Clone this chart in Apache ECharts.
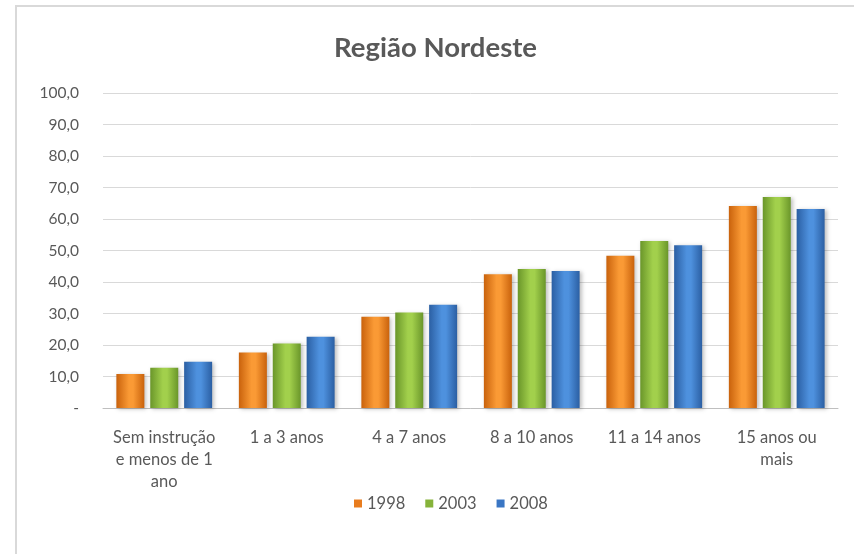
<!DOCTYPE html>
<html>
<head>
<meta charset="utf-8">
<script src="https://cdn.jsdelivr.net/npm/echarts@6/dist/echarts.min.js"></script>
<style>
html,body{margin:0;padding:0;background:#fff;}
#c{width:854px;height:554px;}
</style>
</head>
<body>
<div id="c"></div>
<script>
const categories = ['Sem instrução\ne menos de 1\nano', '1 a 3 anos', '4 a 7 anos', '8 a 10 anos', '11 a 14 anos', '15 anos ou\nmais'];
const seriesNames = ['1998', '2003', '2008'];
const values1998 = [10.8, 17.6, 29.0, 42.5, 48.3, 64.1];
const values2003 = [12.8, 20.5, 30.3, 44.1, 53.0, 67.0];
const values2008 = [14.7, 22.6, 32.8, 43.5, 51.7, 63.2];
const yTicks = [0, 10, 20, 30, 40, 50, 60, 70, 80, 90, 100];

const palettes = [
  {edge: '#C9620C', mid: '#FA9A35', legend: '#E87C1E'},
  {edge: '#6A962A', mid: '#A2D04C', legend: '#86B33A'},
  {edge: '#2B5FA3', mid: '#4E91DE', legend: '#3A76C4'}
];
function grad(p){
  return new echarts.graphic.LinearGradient(0,0,1,0,[
    {offset:0,color:p.edge},{offset:0.45,color:p.mid},{offset:0.6,color:p.mid},{offset:1,color:p.edge}
  ]);
}
const font = 'Lato';
const allValues = [values1998, values2003, values2008];
const chart = echarts.init(document.getElementById('c'));
chart.setOption({
  animation:false,
  backgroundColor:'#fff',
  graphic:[{type:'rect',shape:{x:16,y:6,width:850,height:560},style:{fill:'none',stroke:'#d9d9d9',lineWidth:2},silent:true}],
  title:{text:'Região Nordeste',top:34,left:334,textStyle:{fontFamily:'Lato',fontWeight:'bold',fontSize:27.5,color:'#595959'},padding:0,itemGap:0},
  legend:{left:349,top:490,itemWidth:8,itemHeight:8,itemGap:20,icon:'rect',
    textStyle:{fontFamily:font,fontSize:16.5,color:'#595959'},
    data:seriesNames.map((n,i)=>({name:n,itemStyle:{color:palettes[i].legend}}))},
  grid:{left:103,right:16,top:93,bottom:146,containLabel:false},
  xAxis:{type:'category',data:categories,
    axisLine:{lineStyle:{color:'#bfbfbf',width:1}},axisTick:{show:false},
    axisLabel:{fontFamily:font,fontSize:16.5,color:'#595959',margin:19,lineHeight:22,interval:0}},
  yAxis:{type:'value',min:0,max:100,interval:10,
    axisLine:{show:false},axisTick:{show:false},
    splitLine:{lineStyle:{color:'#d9d9d9',width:1}},
    axisLabel:{fontFamily:font,fontSize:15.5,color:'#595959',margin:24,
      formatter:v=> v===0 ? '-' : v.toFixed(1).replace('.',',')}},
  series:seriesNames.map((n,i)=>({
    name:n,type:'bar',data:allValues[i],barWidth:28,barGap:'21%',
    itemStyle:{color:grad(palettes[i]),shadowColor:'rgba(0,0,0,0.25)',shadowBlur:4,shadowOffsetX:2,shadowOffsetY:1}
  }))
});
</script>
</body>
</html>
